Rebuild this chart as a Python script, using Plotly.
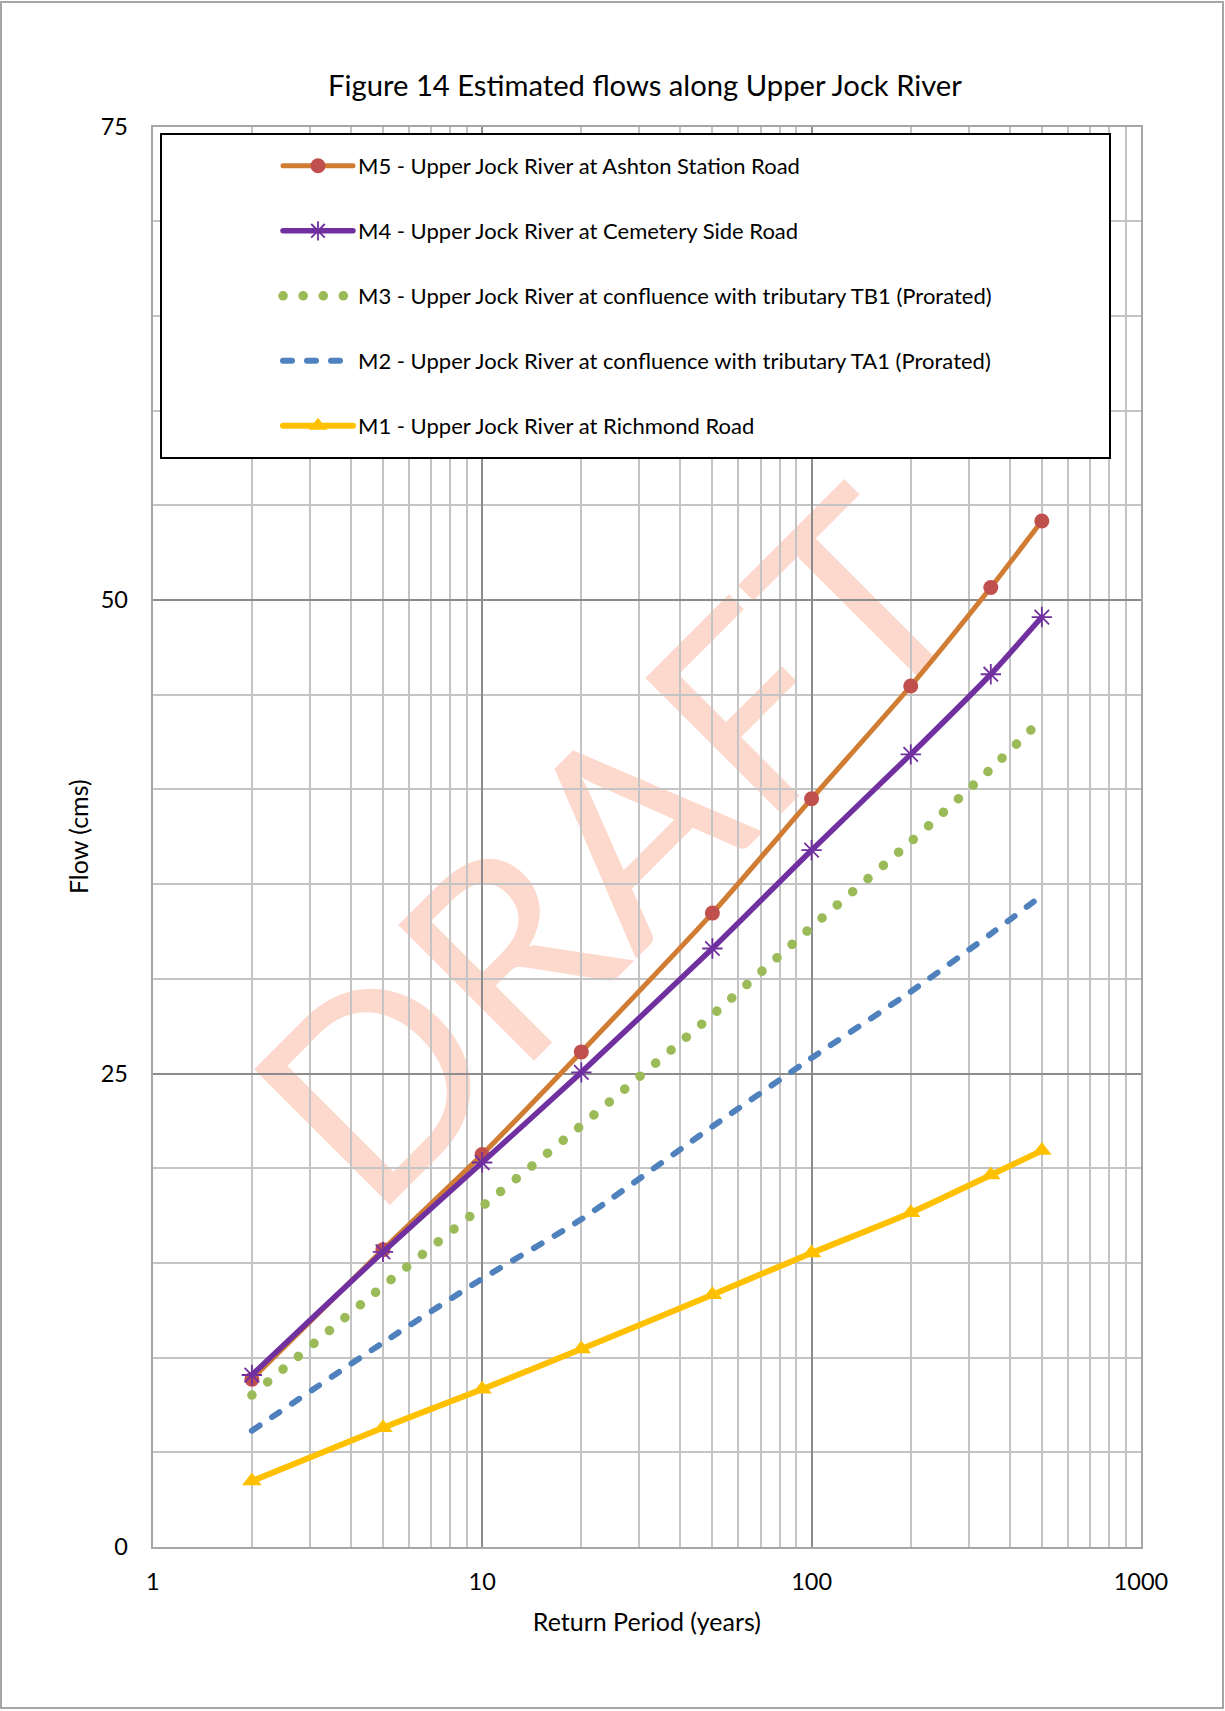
import plotly.graph_objects as go

# Return periods (years) and estimated flows (cms) at each location
return_periods = [2, 5, 10, 20, 50, 100, 200, 350, 500]
m5_flow = [8.86, 15.70, 20.72, 26.14, 33.47, 39.51, 45.46, 50.66, 54.17]
m4_flow = [9.08, 15.58, 20.30, 25.06, 31.60, 36.79, 41.85, 46.08, 49.10]
m3_flow = [8.02, 13.77, 17.98, 22.26, 28.09, 32.73, 37.24, 41.08, 43.70]
m2_flow = [6.14, 10.79, 14.16, 17.30, 22.20, 25.82, 29.32, 32.37, 34.40]
m1_flow = [3.48, 6.30, 8.33, 10.45, 13.32, 15.52, 17.65, 19.64, 20.93]

series_names = [
    "M5 - Upper Jock River at Ashton Station Road",
    "M4 - Upper Jock River at Cemetery Side Road",
    "M3 - Upper Jock River at confluence with tributary TB1 (Prorated)",
    "M2 - Upper Jock River at confluence with tributary TA1 (Prorated)",
    "M1 - Upper Jock River at Richmond Road",
]

W, H = 1225, 1711
FONT = "Lato, 'Open Sans', sans-serif"

# plot area in pixels
px_left, px_right = 152.7, 1141.0
px_top, px_bottom = 126.5, 1547.0

fig = go.Figure()

fig.add_trace(go.Scatter(
    x=return_periods, y=m5_flow, name=series_names[0], legendgroup="m5",
    mode="lines+markers", line=dict(color="#D07C33", width=5, shape="spline", smoothing=0.6),
    marker=dict(symbol="circle", size=15, color="#C0504D"),
))
fig.add_trace(go.Scatter(
    x=return_periods, y=m4_flow, name=series_names[1], legendgroup="m4",
    mode="lines+markers", line=dict(color="#7030A0", width=5.5, shape="spline", smoothing=0.6),
    marker=dict(symbol="asterisk-open", size=17, color="#7030A0", line=dict(width=1.8, color="#7030A0")),
))
fig.add_trace(go.Scatter(
    x=return_periods, y=m3_flow, name=series_names[2], legendgroup="m3",
    mode="lines", line=dict(color="#9BBB59", width=9.5, dash="0.1px,20px", shape="spline", smoothing=0.6),
))
fig.add_trace(go.Scatter(
    x=return_periods, y=m2_flow, name=series_names[3], legendgroup="m2",
    mode="lines", line=dict(color="#4F81BD", width=6, dash="9px,15px", shape="spline", smoothing=0.6),
))
fig.add_trace(go.Scatter(
    x=return_periods, y=m1_flow, name=series_names[4], legendgroup="m1",
    mode="lines+markers", line=dict(color="#FFC000", width=6, shape="spline", smoothing=0.6),
    marker=dict(symbol="triangle-up", size=17, color="#FFC000"),
))

fig.update_layout(
    width=W, height=H,
    margin=dict(l=0, r=0, t=0, b=0),
    paper_bgcolor="white", plot_bgcolor="white",
    font=dict(family=FONT, color="#000000", size=22),
    showlegend=True,
    title=dict(
        text="Figure 14 Estimated flows along Upper Jock River",
        x=645 / W, y=1 - 86 / H, xanchor="center", yanchor="middle",
        font=dict(family=FONT, size=29.2, color="#000000"),
    ),
    legend=dict(
        x=278 / W, y=1 - 145 / H, xanchor="left", yanchor="top",
        bgcolor="rgba(0,0,0,0)", borderwidth=0,
        font=dict(family=FONT, size=22, color="#000000"),
        tracegroupgap=33.4, itemwidth=70,
    ),
    xaxis=dict(
        type="log", range=[0, 3], domain=[px_left / W, px_right / W],
        tickvals=[1, 10, 100, 1000], ticktext=["1", "10", "100", "1000"],
        showgrid=True, gridcolor="#8C8C8C", gridwidth=2,
        minor=dict(dtick="D1", showgrid=True, gridcolor="#C4C4C4", gridwidth=2, ticks=""),
        showline=True, linecolor="#A6A6A6", linewidth=2, mirror=True,
        ticks="", ticklabelstandoff=13, zeroline=False, automargin=False,
        tickfont=dict(family=FONT, size=23.5),
        title=dict(text="Return Period (years)", standoff=19, font=dict(family=FONT, size=25)),
    ),
    yaxis=dict(
        range=[0, 75], domain=[1 - px_bottom / H, 1 - px_top / H],
        dtick=25, tick0=0,
        showgrid=True, gridcolor="#8C8C8C", gridwidth=2,
        minor=dict(dtick=5, showgrid=True, gridcolor="#C4C4C4", gridwidth=2, ticks=""),
        showline=True, linecolor="#A6A6A6", linewidth=2, mirror=True,
        ticks="", ticklabelstandoff=18, zeroline=False, automargin=False,
        tickfont=dict(family=FONT, size=23.5),
        title=dict(text="Flow (cms)", standoff=5, font=dict(family=FONT, size=25)),
    ),
    shapes=[
        # outer chart frame
        dict(type="rect", xref="paper", yref="paper",
             x0=1 / W, x1=1223 / W, y0=1 - 1708 / H, y1=1 - 2 / H,
             line=dict(color="#A6A6A6", width=2), fillcolor="rgba(0,0,0,0)", layer="below"),
        # legend box
        dict(type="rect", xref="paper", yref="paper",
             x0=161 / W, x1=1110 / W, y0=1 - 458 / H, y1=1 - 134 / H,
             line=dict(color="#000000", width=2), fillcolor="white", layer="above"),
        # watermark
        dict(type="rect", xref="paper", yref="paper",
             x0=262 / W, x1=942 / W, y0=1 - 1204 / H, y1=1 - 479 / H,
             line=dict(width=0), fillcolor="rgba(0,0,0,0)", layer="between",
             label=dict(text="DRAFT", textangle=-45, textposition="middle center",
                        font=dict(family=FONT, size=268, color="rgba(248,110,60,0.26)"))),
    ],
)

round_caps = """
var gd = document.getElementById('{plot_id}');
gd.querySelectorAll('path.js-line').forEach(function(p){ p.style.strokeLinecap = 'round'; });
"""

fig.write_html("out.html", post_script=round_caps)
